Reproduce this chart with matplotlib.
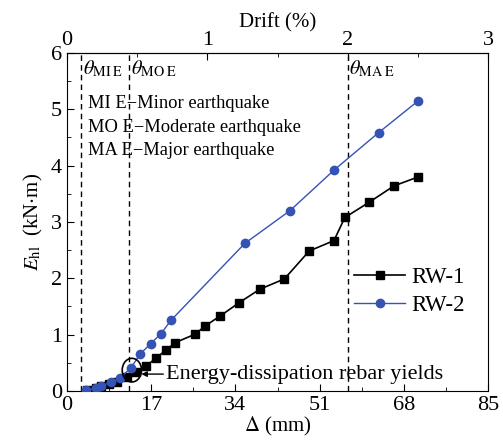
import matplotlib
matplotlib.use("Agg")
import matplotlib.pyplot as plt
from matplotlib.patches import Ellipse
from matplotlib.ticker import MultipleLocator, FixedLocator

plt.rcParams["font.family"] = ["Liberation Serif", "DejaVu Serif"]
plt.rcParams["mathtext.fontset"] = "stix"

# displacement (mm) and dissipated energy (kN.m)
rw1_disp = [4.0, 5.9, 6.8, 8.5, 10.0, 12.05, 13.9, 15.95, 17.9, 19.9, 21.9,
            25.9, 27.9, 30.9, 34.8, 38.9, 43.9, 48.9, 53.9, 56.1, 61.0, 66.0, 70.9]
rw1_energy = [0.02, 0.045, 0.08, 0.13, 0.16, 0.25, 0.34, 0.44, 0.58, 0.72, 0.86,
              1.01, 1.155, 1.33, 1.57, 1.805, 1.99, 2.485, 2.67, 3.08, 3.35, 3.64, 3.80]
rw2_disp = [3.9, 5.85, 6.8, 8.9, 10.7, 12.9, 14.8, 16.9, 19.0, 21.0,
            35.9, 45.0, 53.9, 62.9, 70.9]
rw2_energy = [0.02, 0.045, 0.08, 0.16, 0.23, 0.41, 0.66, 0.84, 1.02, 1.255,
              2.62, 3.20, 3.92, 4.585, 5.15]

# performance level drifts (mm)
limit_disp = [2.83, 12.6, 56.7]
limit_labels = [r"$\theta_{\rm MI\;E}$", r"$\theta_{\rm MO\;E}$", r"$\theta_{\rm MA\;E}$"]
notes = ["MI E\u2212Minor earthquake", "MO E\u2212Moderate earthquake",
         "MA E\u2212Major earthquake"]
drift_ticks = [0, 1, 2, 3]

FS = 16

fig = plt.figure(figsize=(5.03, 4.43), dpi=100)
ax = fig.add_axes([0.1332, 0.1174, 0.8370, 0.7630])

ax.plot(rw1_disp, rw1_energy, color="k", lw=1.2, marker="s", ms=5.5,
        label="RW-1", zorder=3)
ax.plot(rw2_disp, rw2_energy, color="#3552b5", lw=1.0, marker="o", ms=6,
        label="RW-2", zorder=4)

for xd, lab in zip(limit_disp, limit_labels):
    ax.axvline(xd, color="k", ls=(0, (4, 3)), lw=1.0, zorder=1)
    ax.text(xd + 0.3, 5.9, lab, fontsize=14.5, va="top", ha="left")

for i, note in enumerate(notes):
    ax.text(4.3, 5.1 - 0.415 * i, note, fontsize=13.3, va="center", ha="left")

ax.add_patch(Ellipse((13.1, 0.37), 3.9, 0.42, fill=False, ec="k", lw=1.2,
                     zorder=5))
ax.annotate("Energy-dissipation rebar yields", xy=(15.0, 0.3), xytext=(20.0, 0.3),
            fontsize=FS, va="center", ha="left",
            arrowprops=dict(arrowstyle="-|>", color="k", lw=1.0,
                            mutation_scale=8, shrinkA=0, shrinkB=0))

ax.set_xlim(0, 85)
ax.set_ylim(0, 6)
ax.xaxis.set_major_locator(MultipleLocator(17))
ax.xaxis.set_minor_locator(MultipleLocator(8.5))
ax.yaxis.set_major_locator(MultipleLocator(1))
ax.yaxis.set_minor_locator(MultipleLocator(0.5))
ax.tick_params(which="both", direction="in", labelsize=FS, top=False)
ax.tick_params(which="major", length=5)
ax.tick_params(which="minor", length=3)
ax.set_xlabel(r"$\it{\Delta}$ (mm)", fontsize=15, labelpad=0)
ax.set_ylabel(r"$E_{\rm hl}$  (kN$\cdot$m)", fontsize=15, labelpad=4)

top = ax.secondary_xaxis("top", functions=(lambda d: d * 3 / 85, lambda p: p * 85 / 3))
top.xaxis.set_major_locator(FixedLocator(drift_ticks))
top.xaxis.set_minor_locator(FixedLocator([0.5, 1.5, 2.5]))
top.tick_params(which="both", direction="in", labelsize=FS, pad=2)
top.tick_params(which="major", length=5)
top.tick_params(which="minor", length=3)
top.set_xlabel("Drift (%)", fontsize=15, labelpad=3)

ax.legend(loc="center right", bbox_to_anchor=(1.0, 0.295), frameon=False,
          fontsize=16.5, handlelength=2.2, handletextpad=0.3, labelspacing=0.3,
          borderaxespad=0.6)

fig.savefig("out.png", dpi=100)
